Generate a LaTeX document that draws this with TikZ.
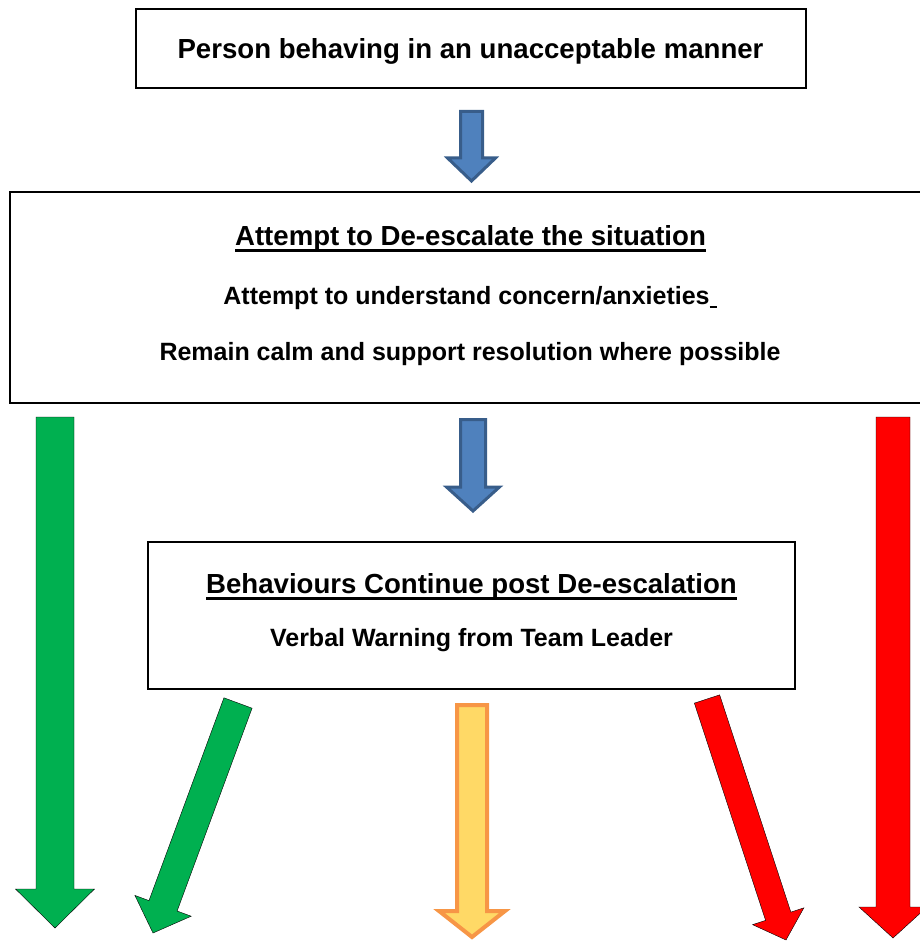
\documentclass[tikz,border=0pt]{standalone}
\usepackage{fontspec}
\setmainfont{Liberation Sans}
\usetikzlibrary{calc}
\definecolor{arrblue}{RGB}{79,129,189}
\definecolor{arrblueline}{RGB}{56,93,138}
\definecolor{arrgreen}{RGB}{0,176,80}
\definecolor{arryellow}{RGB}{255,217,102}
\definecolor{arrorange}{RGB}{247,150,70}
\newcommand{\ulhead}[1]{\setbox0\hbox{#1}\rlap{\rule[-6.5pt]{\wd0}{2.6pt}}\box0}
% block arrow: style, from, to, shaft half width, head half width, head length
\newcommand{\blockarrow}[6]{%
\coordinate (hb) at ($(#3)!#6!(#2)$);
\draw[#1]($(#2)!#4!90:(#3)$)--($(hb)!#4!-90:(#2)$)--($(hb)!#5!-90:(#2)$)--(#3)
--($(hb)!#5!90:(#2)$)--($(hb)!#4!90:(#2)$)--($(#2)!#4!-90:(#3)$)--cycle;}
\tikzset{
box/.style={draw,line width=1.6pt,inner sep=0pt},
txt/.style={anchor=base,font=\bfseries\fontsize{25}{30}\selectfont},
bigtxt/.style={txt,font=\bfseries\fontsize{27.6}{32}\selectfont},
bluearr/.style={fill=arrblue,draw=arrblueline,line width=3pt},
greenarr/.style={fill=arrgreen},
orangearr/.style={fill=arryellow,draw=arrorange,line width=4pt},
redarr/.style={fill=red}}
\begin{document}
\begin{tikzpicture}[x=1pt,y=-1pt]
\useasboundingbox(0,0)rectangle(919,941);
\node[box,minimum width=670pt,minimum height=79pt](person)at(471,48.5){};
\node[box,minimum width=920pt,minimum height=211pt](deesc)at(470,297.5){};
\node[box,minimum width=647pt,minimum height=147pt](cont)at(471.5,615.5){};
\node[bigtxt](persontxt)at(470.5,59){Person behaving in an unacceptable manner};
\node[bigtxt](deeschead)at(470.5,245){\ulhead{Attempt to De-escalate the situation}};
\node[txt](deescone)at(470,304){Attempt to understand concern/anxieties\rule[-3.5pt]{7pt}{1.8pt}};
\node[txt](deesctwo)at(470,360){Remain calm and support resolution where possible};
\node[bigtxt](conthead)at(471.5,593){\ulhead{Behaviours Continue post De-escalation}};
\node[txt](contone)at(471.5,646){Verbal Warning from Team Leader};
% arrow ends
\coordinate(bluea)at(471.5,111.5);\coordinate(blueatip)at(471.5,181);
\coordinate(blueb)at(473,419.5);\coordinate(bluebtip)at(473,511);
\coordinate(greena)at(55,417);\coordinate(greenatip)at(55,928);
\coordinate(greenb)at(238,703);\coordinate(greenbtip)at(153,933);
\coordinate(amber)at(472,705);\coordinate(ambertip)at(472,937);
\coordinate(reda)at(707,699);\coordinate(redatip)at(786,940);
\coordinate(redb)at(893,417);\coordinate(redbtip)at(893,938);
\blockarrow{bluearr}{bluea}{blueatip}{11pt}{24pt}{23pt}
\blockarrow{bluearr}{blueb}{bluebtip}{12.5pt}{26.5pt}{24pt}
\blockarrow{greenarr}{greena}{greenatip}{19pt}{39.5pt}{39pt}
\blockarrow{greenarr}{greenb}{greenbtip}{15pt}{30pt}{29pt}
\blockarrow{orangearr}{amber}{ambertip}{15pt}{33pt}{26pt}
\blockarrow{redarr}{reda}{redatip}{13.3pt}{27pt}{25pt}
\blockarrow{redarr}{redb}{redbtip}{17pt}{34pt}{31pt}
\end{tikzpicture}
\end{document}
